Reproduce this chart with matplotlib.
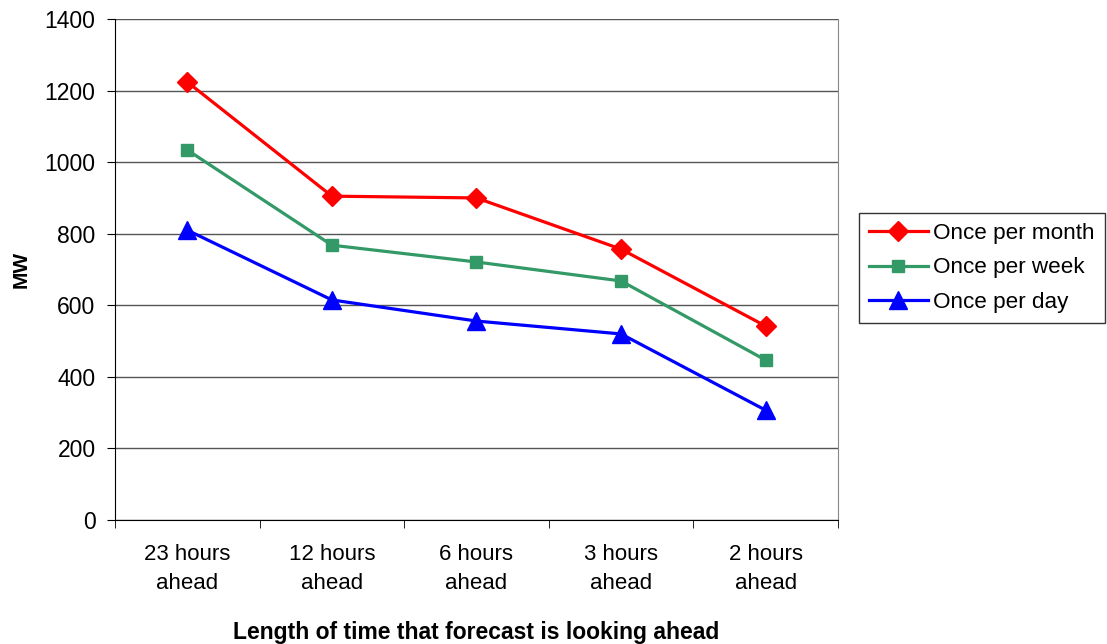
import matplotlib
matplotlib.use('Agg')
import matplotlib.pyplot as plt
import numpy as np

plt.rcParams['font.family'] = ['Liberation Sans', 'DejaVu Sans']

categories = ['23 hours\nahead', '12 hours\nahead', '6 hours\nahead', '3 hours\nahead', '2 hours\nahead']
per_month = [1224, 905, 900, 757, 542]
per_week = [1034, 768, 721, 668, 447]
per_day = [810, 615, 556, 520, 307]

fig = plt.figure(figsize=(11.07, 6.44), dpi=100)
ax = fig.add_axes([0.1039, 0.1925, 0.653, 0.778])

x = np.arange(len(categories))
ax.plot(x, per_month, color='#FF0000', lw=2.3, marker='D', ms=10, label='Once per month')
ax.plot(x, per_week, color='#339966', lw=2.3, marker='s', ms=8, label='Once per week')
ax.plot(x, per_day, color='#0000FF', lw=2.3, marker='^', ms=13, label='Once per day')

ax.set_xlim(-0.5, 4.5)
ax.set_ylim(0, 1400)
ax.set_yticks(range(0, 1401, 200))
ax.yaxis.grid(True, color='#555555', lw=1)
ax.set_axisbelow(True)

ax.set_xticks(x)
ax.set_xticklabels(categories, fontsize=16, linespacing=1.55)
ax.set_xticks(np.arange(-0.5, 5, 1), minor=True)
ax.tick_params(axis='x', which='major', length=0, pad=17)
ax.tick_params(axis='x', which='minor', length=6, color='black')
ax.tick_params(axis='y', labelsize=16.5, length=6, pad=8)

ax.spines['top'].set_visible(False)
ax.spines['right'].set_color('#888888')
for s in ['left', 'bottom']:
    ax.spines[s].set_color('black')

ax.set_ylabel('MW', fontsize=15, fontweight='bold', labelpad=10)
ax.set_xlabel('Length of time that forecast is looking ahead', fontsize=16.5, fontweight='bold', labelpad=19)

leg = fig.legend(loc='center left', bbox_to_anchor=(0.776, 0.584), fontsize=16.2,
                 frameon=True, fancybox=False, edgecolor='black', handlelength=2.6,
                 borderpad=0.45, labelspacing=0.6, handletextpad=0.25, borderaxespad=0)
leg.get_frame().set_linewidth(1)

fig.savefig('out.png', dpi=100)
plt.close(fig)
